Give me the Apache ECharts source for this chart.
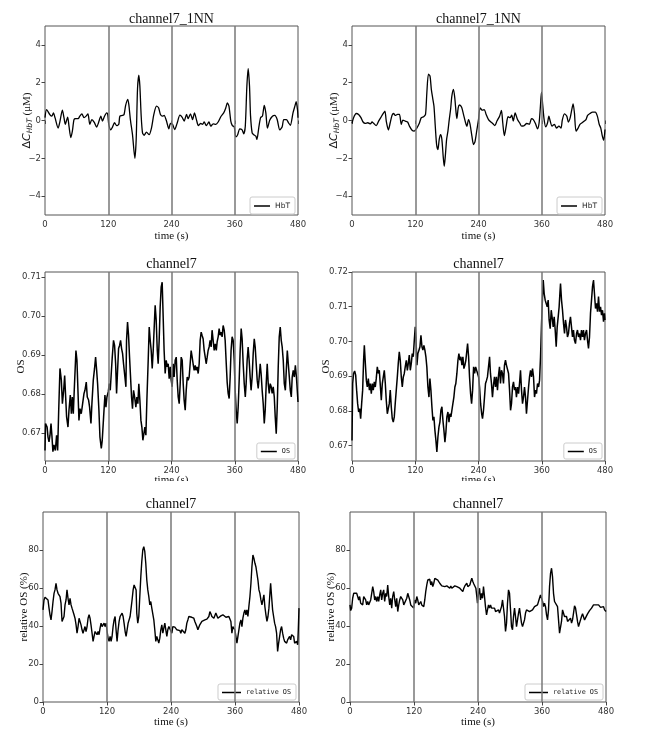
<!DOCTYPE html>
<html><head><meta charset="utf-8">
<script src="https://cdn.jsdelivr.net/npm/echarts@6/dist/echarts.min.js"></script>
<style>html,body{margin:0;padding:0;background:#fff}#c{width:645px;height:738px}</style>
</head><body><div id="c"></div>
<script>
// ---- data ----
const timeTicks = [0, 120, 240, 360, 480];
const eventTimes = [120, 240, 360];
const hbtTicks = [-4, -2, 0, 2, 4];
const osLeftTicks = [0.67, 0.68, 0.69, 0.70, 0.71];
const osRightTicks = [0.67, 0.68, 0.69, 0.70, 0.71, 0.72];
const relTicks = [0, 20, 40, 60, 80];

const hbtLeft = [[0,0.15],[3,0.58],[9.5,0.3],[13,0.23],[16,0.4],[19,0.15],[25,-0.4],[28,-0.1],[33,0.55],[36,0.15],[38.5,-0.2],[43,0.18],[45.5,-0.3],[49,-0.9],[52,-0.55],[55,0.05],[58,0.1],[63,0.1],[66,0.23],[70,0.35],[74,0.15],[78,0.23],[81.5,0.35],[85,-0.2],[89,0.05],[93.5,-0.1],[98,-0.35],[101.5,-0.12],[106,0.23],[109,-0.03],[112.5,0.2],[117,0.4],[119,0.32],[121,-0.2],[125,-0.5],[128,-0.35],[132,-0.12],[136,-0.27],[140,-0.2],[142,0.23],[147,0.27],[150,0.32],[153,0.8],[157,1.12],[159,0.85],[162,0.05],[166,-0.75],[170.5,-2.0],[173,-1.0],[175.5,1.65],[178,2.4],[180,1.82],[182.5,0.23],[185,-0.65],[188,-0.78],[192.5,-0.62],[197.5,-0.75],[202,-0.4],[206.5,0.32],[211.5,0.76],[215.5,0.67],[219,0.32],[223,0.23],[226,0.27],[230.5,-0.03],[235,-0.44],[238,-0.16],[242,-0.2],[246,-0.48],[250.5,-0.16],[256,0.28],[260,0.18],[264,-0.03],[268.5,0.32],[271.5,0.1],[276,0.35],[280,0.05],[283.5,0.4],[287.5,0.02],[291,-0.27],[295,-0.16],[299,-0.2],[302,-0.08],[306,-0.27],[311,-0.08],[314.5,-0.3],[319,-0.18],[324,-0.2],[328.5,-0.08],[333.5,0.2],[339,0.4],[343,0.67],[346,0.93],[349,0.76],[352.5,-0.03],[355.5,-0.27],[359,-0.33],[362,-0.87],[365.5,-0.75],[369.5,-0.44],[374,-0.5],[377,-0.7],[380,-0.3],[383,1.82],[385.5,2.75],[388,1.82],[390,0.23],[393,-0.65],[396,-0.75],[400,-0.83],[402,-1.0],[405.5,-0.4],[409,0.15],[412.5,0.23],[416,0.8],[419,0.4],[422,-0.4],[426.5,0.02],[431.5,0.23],[436,0.27],[440.5,0.05],[445.5,-0.5],[450,-0.33],[453,0.05],[458,0.05],[462,-0.12],[465.5,-0.25],[470.5,0.4],[474.5,0.8],[476.5,1.0],[479,0.58],[480,0.15]];

const hbtRight = [[0,-0.15],[3,0.15],[8,0.37],[12.5,0.32],[17,0.15],[21,-0.08],[25,-0.15],[30,-0.12],[35,-0.18],[38,-0.08],[41,-0.15],[46,-0.27],[50.5,-0.03],[55.5,0.2],[60,0.4],[62.5,0.5],[65,-0.03],[69,-0.5],[72.5,-0.12],[76,0.28],[79,0.37],[82,0.27],[86.5,0.32],[90,0.32],[93.5,-0.2],[96.5,0.02],[101,-0.03],[105.5,-0.08],[109,-0.3],[113.5,-0.5],[118,-0.56],[123,-0.4],[127.5,-0.16],[131.5,0.15],[136,0.2],[139.5,0.32],[142,1.47],[145,2.45],[148,2.35],[150.5,1.65],[153,1.2],[155.5,0.76],[158,-0.3],[160.5,-1.27],[163,-1.54],[165.5,-1.0],[168,-0.75],[170.5,-1.0],[173,-1.9],[175,-2.42],[177,-1.9],[179.5,-1.0],[182,-0.56],[184.5,0.05],[187,0.58],[189.5,1.3],[192.5,1.65],[195,1.2],[197.5,0.4],[199,0.1],[201.5,0.67],[204,0.82],[208,0.7],[211.5,0.32],[215.5,-0.12],[218,-0.3],[221,0.05],[224,-0.2],[227.5,-0.83],[230.5,-1.27],[233.5,-1.1],[237,-0.48],[240,0.05],[243,0.67],[247,0.55],[251,0.58],[254.5,0.32],[259,0.05],[263.5,-0.08],[267,-0.16],[271,-0.27],[275,-0.03],[280,0.23],[283.5,0.53],[286,-0.12],[289,-0.8],[292.5,-0.3],[296,0.2],[300,0.15],[303,0.28],[306,-0.03],[309.5,0.4],[314,0.05],[318,-0.12],[322,-0.3],[326.5,-0.27],[331.5,-0.16],[336.5,-0.2],[340.5,0.1],[344,0.05],[348,-0.16],[352,-0.44],[355,-0.12],[357.5,0.76],[359.5,1.5],[362,0.76],[364.5,0.05],[367.5,-0.33],[371,-0.12],[373.5,0.23],[376,-0.03],[379.5,-0.3],[384,-0.2],[388,-0.4],[392.5,-0.3],[396.5,-0.4],[399,0.02],[403,0.35],[407.5,0.23],[410.5,-0.08],[414,0.15],[417,0.58],[419.5,0.88],[422,0.4],[425,-0.56],[429,-0.4],[432.5,-0.2],[436.5,-0.12],[440.5,-0.03],[444,0.05],[447,0.27],[451.5,0.37],[456.5,0.44],[461.5,0.44],[465.5,0.23],[469,-0.2],[472,-0.4],[475,-0.83],[477.5,-1.05],[480,-0.48]];

const osLeft = [[0,0.6656],[1,0.6725],[2,0.6727],[4,0.6716],[5.7,0.669],[7.6,0.6678],[9.5,0.6695],[11.4,0.6725],[13.3,0.669],[15,0.6653],[17,0.667],[19.6,0.6656],[22,0.6695],[24,0.6656],[26,0.6759],[28.4,0.6866],[31,0.6836],[33,0.6776],[35.4,0.681],[37.3,0.6848],[39.2,0.6793],[41,0.6742],[43.6,0.6716],[45.5,0.6759],[48,0.6798],[50,0.675],[51.8,0.6793],[53.7,0.675],[56,0.6827],[58.7,0.6912],[60.6,0.6887],[62.5,0.681],[64.4,0.6733],[66.3,0.6763],[68.8,0.675],[71.4,0.6776],[74,0.6802],[75.8,0.681],[78.3,0.6831],[80.2,0.6793],[82.7,0.6785],[84.6,0.6767],[87.2,0.6725],[89,0.6776],[91.6,0.6836],[94,0.6866],[96,0.6895],[98,0.6861],[99.8,0.6827],[102.3,0.6759],[104.2,0.6691],[106.8,0.6661],[108.6,0.6682],[111.2,0.6742],[113.7,0.6798],[115.6,0.6767],[117.5,0.6793],[120,0.6806],[122,0.6827],[123.8,0.681],[125.7,0.6853],[127.6,0.6895],[130,0.6938],[132,0.6925],[134,0.6878],[135.8,0.6802],[137.7,0.6861],[139.6,0.6917],[141.5,0.6925],[143.4,0.6938],[145.3,0.6917],[147.2,0.6904],[149,0.6878],[151.6,0.6844],[153.5,0.6819],[154.7,0.6938],[156.6,0.6985],[158.5,0.6951],[160.4,0.6895],[162.3,0.6844],[164.2,0.6793],[166,0.6763],[168,0.681],[170,0.6793],[172.4,0.6767],[174.3,0.6793],[176.2,0.6776],[178,0.6827],[180,0.6785],[182,0.6733],[183.8,0.6716],[185.7,0.6682],[187.6,0.6678],[189.5,0.6716],[191.4,0.6695],[193.3,0.6785],[195.8,0.6887],[197.7,0.6972],[199.6,0.6938],[201.5,0.6912],[203.4,0.6866],[205.3,0.6912],[207.2,0.6972],[209,0.7028],[211,0.6989],[213,0.6912],[214.7,0.6878],[216.6,0.6938],[218.5,0.7023],[220.4,0.7074],[222.3,0.7087],[224.2,0.6998],[226,0.6912],[228,0.6853],[230,0.6887],[231.8,0.687],[233.7,0.6878],[235.6,0.684],[237.5,0.687],[239.4,0.6836],[241.3,0.6819],[243.2,0.6878],[245,0.6844],[247,0.6887],[249,0.6895],[250.8,0.6836],[252.7,0.6793],[254.6,0.6776],[256.5,0.6827],[258.4,0.6895],[260.3,0.6887],[262.2,0.6827],[264,0.6785],[266,0.6759],[267.9,0.681],[269.8,0.6844],[271.6,0.6836],[273.5,0.6844],[275.4,0.6878],[277.3,0.6912],[279.2,0.6895],[281,0.6878],[283,0.6861],[285,0.6874],[286.8,0.6861],[288.7,0.687],[290.6,0.6853],[292.5,0.6878],[294.4,0.6938],[296.3,0.6959],[298.2,0.695],[300,0.6942],[302,0.6912],[304,0.6895],[305.8,0.6878],[307.7,0.6895],[309.5,0.6912],[311.4,0.6921],[313.3,0.6938],[315.2,0.6921],[317,0.6964],[319,0.6938],[321,0.6912],[323,0.6929],[325,0.6912],[326.6,0.6934],[328.5,0.6947],[330.4,0.6968],[332.3,0.6951],[334.2,0.6959],[336,0.6947],[338,0.6976],[340,0.6964],[341.8,0.6938],[343.7,0.6883],[345.6,0.6831],[347.5,0.6802],[349.4,0.6789],[351.3,0.6844],[353,0.6912],[355,0.6947],[357,0.6938],[359,0.6887],[360.8,0.681],[362.7,0.6759],[364.6,0.6725],[366.5,0.6767],[368.4,0.6836],[370.3,0.6912],[372.2,0.6968],[374,0.6942],[376,0.6878],[378,0.6827],[380,0.6793],[381.6,0.6827],[383.5,0.6887],[385.4,0.6921],[387.3,0.6887],[389.2,0.6844],[391,0.681],[393,0.6844],[395,0.6904],[397,0.6942],[398.8,0.6921],[400.7,0.6878],[402.6,0.6836],[404.5,0.6815],[406.4,0.6844],[408.3,0.6878],[410,0.6853],[412,0.681],[414,0.6776],[416,0.6725],[417.8,0.6759],[419.7,0.6827],[421.6,0.6878],[423.5,0.6827],[425.4,0.6802],[427.3,0.6827],[429.2,0.6819],[431,0.6802],[433,0.6819],[435,0.6793],[436.8,0.6742],[438.7,0.6699],[440.6,0.6767],[442.5,0.687],[444.4,0.6947],[446.3,0.6972],[448.2,0.6938],[450,0.6921],[452,0.6887],[454,0.6827],[456,0.681],[457.8,0.6861],[459.7,0.6912],[461.6,0.6878],[463.5,0.6844],[465.4,0.681],[467.3,0.6793],[469,0.6844],[471,0.6861],[473,0.6844],[475,0.6874],[477,0.6844],[479,0.6802],[480,0.678]];

const osRight = [[0,0.6715],[1.3,0.6879],[3,0.6908],[5,0.6915],[7,0.6903],[8.8,0.686],[10.7,0.6821],[12.6,0.6797],[14.5,0.6807],[16.4,0.6778],[18.3,0.6821],[20.2,0.686],[22,0.6946],[23.4,0.6989],[25.3,0.6937],[27.2,0.6888],[29,0.6869],[31,0.6893],[33,0.686],[34.7,0.6879],[36.6,0.685],[38.5,0.6879],[40.4,0.686],[42.3,0.6884],[44.2,0.6869],[46,0.6893],[48,0.6927],[50,0.6908],[51.8,0.6917],[53.7,0.6874],[55.6,0.6831],[57.5,0.6879],[59.4,0.6898],[61.3,0.6917],[63.2,0.6879],[65,0.6831],[67,0.6792],[68.8,0.6788],[70.7,0.6821],[72.6,0.686],[74.5,0.6812],[76.4,0.6778],[78.3,0.6768],[80.2,0.6783],[82,0.6821],[84,0.686],[86,0.6898],[87.8,0.6937],[89.7,0.697],[91.6,0.6946],[93.5,0.6898],[95.4,0.6869],[97.3,0.6898],[99.2,0.6908],[101,0.6927],[103,0.6946],[105,0.6917],[106.8,0.6937],[108.7,0.6961],[110.6,0.6917],[112.5,0.6937],[114.3,0.6965],[116.2,0.6956],[118,0.6999],[120,0.7042],[121.3,0.7013],[123.2,0.6932],[125,0.6965],[127,0.6975],[128.9,0.6985],[130.8,0.7018],[132.7,0.6985],[134.5,0.6975],[136.4,0.6989],[138.3,0.6975],[140.2,0.6956],[142,0.6927],[144,0.6869],[146,0.684],[147.8,0.6893],[149.7,0.686],[151.6,0.6812],[153.5,0.6773],[155.4,0.6783],[157.3,0.6744],[159.2,0.6715],[161,0.6682],[163,0.6725],[165,0.6754],[166.8,0.6768],[168.7,0.6802],[170.6,0.6812],[172.5,0.6773],[174.4,0.6744],[176.3,0.671],[178.2,0.674],[180,0.6783],[182,0.6797],[184,0.6768],[185.8,0.6792],[187.7,0.6783],[189.5,0.6802],[191.4,0.6821],[193.3,0.684],[195.2,0.6869],[197,0.6879],[199,0.6908],[201,0.6946],[202.8,0.6965],[204.7,0.6946],[206.6,0.6956],[208.5,0.6932],[210.4,0.6956],[212.3,0.6922],[214.2,0.6932],[216,0.6946],[218,0.6975],[219.3,0.6994],[221.2,0.6956],[223,0.6898],[225,0.685],[226.9,0.6821],[228.8,0.686],[230.7,0.6927],[232.6,0.6908],[234.5,0.6927],[236.4,0.6917],[238.3,0.6908],[240.2,0.6898],[242,0.6869],[244,0.6821],[246,0.6792],[247.6,0.6778],[249.5,0.6802],[251.4,0.684],[253.3,0.6879],[255.2,0.6888],[257,0.6898],[259,0.6927],[261,0.6956],[262.7,0.6908],[264.6,0.6879],[266.5,0.684],[268.4,0.6874],[270.3,0.6898],[272.2,0.6869],[274,0.6898],[276,0.686],[278,0.6903],[279.8,0.6927],[281.7,0.6879],[283.6,0.6917],[285.5,0.6908],[287.4,0.6879],[289.3,0.6932],[291.2,0.6946],[293,0.6932],[295,0.6937],[297,0.6908],[298.9,0.686],[300.8,0.6802],[302.6,0.6821],[304.5,0.6869],[306.4,0.6884],[308.3,0.686],[310.2,0.6869],[312,0.684],[314,0.6869],[316,0.685],[317.8,0.6879],[319.7,0.6917],[321.6,0.686],[323.5,0.6821],[325.4,0.684],[327.3,0.6869],[329.2,0.684],[331,0.6792],[333,0.6831],[335,0.6869],[336.8,0.6898],[338.7,0.6917],[340.6,0.6898],[342.5,0.6922],[344.4,0.6898],[346.3,0.684],[348.2,0.686],[350,0.685],[352,0.6879],[354,0.6869],[355.8,0.6888],[357.7,0.6956],[359.6,0.7052],[361.5,0.7129],[362.8,0.7177],[364.6,0.7138],[366.5,0.7119],[368.4,0.7124],[370.3,0.71],[372.2,0.7119],[374,0.7062],[376,0.7037],[378,0.709],[380,0.7066],[381.7,0.7042],[383.6,0.7071],[385.5,0.7033],[387.4,0.6985],[389.3,0.7042],[391.2,0.7071],[393,0.71],[394.4,0.7138],[395.6,0.7167],[397.5,0.7119],[399.4,0.709],[401.3,0.7052],[403.2,0.7023],[405,0.7062],[407,0.7042],[408.8,0.7013],[410.7,0.7023],[412.6,0.7052],[414.5,0.7071],[416.4,0.7042],[418.3,0.7013],[420.2,0.7033],[422,0.7004],[424,0.6994],[426,0.7023],[427.8,0.7033],[429.7,0.7013],[431.6,0.7023],[433.5,0.7004],[435.4,0.7033],[437.3,0.7013],[439.2,0.7033],[441,0.7004],[443,0.7023],[445,0.7033],[446.8,0.7004],[448.7,0.698],[450.6,0.7013],[452.5,0.7081],[454.4,0.7119],[456.3,0.7158],[458.2,0.7177],[460,0.7138],[462,0.7095],[464,0.711],[465.8,0.7086],[467.7,0.7129],[469.6,0.7086],[471.5,0.71],[473.4,0.7076],[475.3,0.709],[477.2,0.7057],[479,0.7081],[480,0.7062]];

const relLeft = [[0,48.5],[1.9,53.7],[3.8,55.1],[5.6,54.6],[7.5,55.8],[9.4,53.7],[11.3,49.4],[13.1,45.9],[15,43.2],[16.9,47.6],[18.8,52.9],[20.7,57.2],[22.5,59],[24.4,62.5],[26.3,59],[28.2,57.2],[30,58.1],[31.9,55.5],[33.8,52],[35.7,42.4],[37.5,41.5],[39.4,45],[41.3,51.1],[43.2,53.7],[45,59],[46.9,54.6],[48.8,51.1],[50.7,54.6],[52.6,51.1],[54.4,49.4],[56.3,50.2],[58.2,45.9],[60,44.1],[62,40.6],[63.8,36.2],[65.7,39.7],[67.6,44.1],[69.5,45],[71.3,40.6],[73.2,38],[75,36.2],[77,38],[78.8,39.7],[80.7,37.1],[82.6,39.7],[84.5,44.1],[86.4,45.9],[88.2,44.1],[90,40.6],[92,36.2],[93.9,31.9],[95.7,34.5],[97.6,37.1],[99.5,38],[101.4,35.4],[103.3,37.1],[105.1,35.4],[107,38.9],[108.9,41.5],[110.8,39.7],[112.6,40.6],[114.5,41.5],[116.4,39.7],[118.3,41.5],[120.2,37.1],[122,33.6],[123.9,31.9],[125.8,34.5],[127.7,31.9],[129.5,34.5],[131.4,39.7],[133.3,43.2],[135.2,45],[137,38],[138.9,31.9],[140.8,38],[142.7,42.4],[144.6,45],[146.4,45.9],[148.3,46.8],[150.2,45],[152,41.5],[154,37.1],[155.8,34.5],[157.7,38],[159.6,41.5],[161.5,42.4],[163.3,45],[165.2,49.4],[167,53.7],[169,59],[170.8,61.6],[172.7,61.1],[174.6,59],[175.8,46.8],[177.7,41.5],[179.6,45],[181.5,55.5],[183.4,66],[185.2,73.9],[187.1,80],[189,81.8],[190.9,79.1],[192.7,73],[194.6,64.2],[196.5,59],[198.4,55.5],[200.3,51.1],[202.1,52.9],[204,49.4],[205.9,48.5],[207.8,43.2],[209.6,38],[211.5,31.9],[213.4,34.5],[215.3,32.7],[217.1,31],[219,33.6],[220.9,38],[222.8,40.6],[224.7,36.2],[226.5,38.9],[228.4,41.5],[230.3,38],[232.2,34.5],[234,38],[236,39.7],[237.8,40.6],[239.7,38.9],[241.6,36.2],[243.4,39.7],[245.3,40.6],[247.2,39.4],[249,39.7],[251,38],[252.8,38.9],[254.7,38.3],[256.6,37.6],[258.4,36.2],[260.3,38],[262.2,38],[264,37.1],[266,36.2],[267.8,38],[269.7,41.5],[271.6,43.2],[273.5,45],[275.3,45.9],[277.2,45.3],[279,44.6],[281,45],[282.8,44.1],[284.7,42.4],[286.6,41.5],[288.5,39.7],[290.4,38],[292.2,38.9],[294,40.6],[296,41.5],[297.9,42.4],[299.7,43.2],[301.6,42.4],[303.5,43.2],[305.4,42.9],[307.3,43.6],[309.1,44.1],[311,45],[312.9,47.6],[314.8,46.4],[316.6,45],[318.5,45.9],[320.4,44.1],[322.3,45],[324.1,46.8],[326,45.9],[327.9,44.1],[329.8,45],[331.6,44.1],[333.5,45.3],[335.4,44.6],[337.3,45.9],[339.2,45],[341,45.3],[343,44.6],[344.8,45],[346.7,44.1],[348.5,45],[350.4,44.1],[352.3,42.4],[354.2,36.2],[356,39.7],[358,40.6],[359.8,38],[361.7,34.5],[363.6,31],[365.5,34.5],[367.3,38],[369.2,41.5],[371.1,43.2],[373,39.7],[374.8,44.1],[376.7,46.8],[378.6,48.5],[380.5,45.9],[382.3,48.5],[384.2,45],[386,50.2],[388,55.5],[389.9,62.5],[391.7,71.2],[393.6,77.4],[395.5,75.6],[397.4,73],[399.2,71.2],[401.1,67.7],[403,64.2],[404.9,59],[406.7,57.2],[408.6,53.7],[410.5,51.1],[412.4,52],[414.2,56.4],[416,50.2],[418,45.9],[419.9,42.4],[421.8,45],[423.6,49.4],[425.5,57.2],[426.8,62.5],[428.6,55.5],[430.5,48.5],[432.4,45],[434.3,41.5],[436.1,39.7],[438,36.2],[439.9,26.6],[441.8,31],[443.7,34.5],[445.5,38],[447.4,39.7],[449.3,36.2],[451.2,33.6],[453,31.9],[455,32.7],[456.8,31],[458.7,32.7],[460.6,31.9],[462.4,34.5],[464.3,32.7],[466.2,35.4],[468,36.2],[470,34.5],[471.8,31],[473.7,30.1],[475.6,31.9],[477.5,30.1],[478.7,38],[480,49.4]];

const relRight = [[0,51.1],[1.3,48.1],[3.1,49.4],[5,54.6],[6.9,57.2],[8.8,58.1],[10.6,56.4],[12.5,57.2],[14.4,55.5],[16.3,53.7],[18.1,55.5],[20,52],[21.9,52.9],[23.8,51.1],[25.7,55.5],[27.5,56.4],[29.4,53.7],[31.3,51.1],[33.2,52.9],[35,51.1],[36.9,50.2],[38.8,53.7],[40.7,57.2],[42.6,60.7],[44.4,58.1],[46.3,53.7],[48.2,55.5],[50,52.9],[52,55.5],[53.8,52.9],[55.7,56.4],[57.6,59],[59.4,53.7],[61.3,57.2],[63.2,59],[65,52.9],[67,57.2],[68.8,55.5],[70.7,61.6],[72.6,55.5],[74.5,51.1],[76.3,54.6],[78.2,49.4],[80,55.5],[82,58.1],[83.9,53.7],[85.7,50.2],[87.6,54.6],[89.5,47.6],[91.4,51.1],[93.2,53.7],[95.1,55.5],[97,56.4],[98.9,53.7],[100.8,51.1],[102.6,50.2],[104.5,52],[106.4,54.6],[108.3,57.2],[110.1,56.4],[112,53.7],[113.9,51.1],[115.8,52],[117.6,50.2],[119.5,49.4],[121.4,53.7],[123.3,52],[125.2,55.5],[127,53.7],[128.9,51.1],[130.8,52],[132.7,52.9],[134.5,51.1],[136.4,52],[138.3,50.2],[140.2,53.7],[142,58.1],[144,61.6],[145.8,64.2],[147.7,63.4],[149.6,64.6],[151.5,61.6],[153.3,63.4],[155.2,60.7],[157.1,62.5],[159,65.1],[160.8,65.5],[162.7,65.1],[164.6,64.2],[166.5,63.4],[168.3,62.5],[170.2,61.6],[172.1,61.1],[174,60.7],[175.8,61.1],[177.7,60.7],[179.6,61.6],[181.5,61.1],[183.4,60.7],[185.2,61.6],[187.1,59.9],[189,61.1],[190.9,59.9],[192.7,60.7],[194.6,59.3],[196.5,61.1],[198.4,60.4],[200.3,60.7],[202.1,59.9],[204,60.7],[205.9,59.9],[207.8,60.7],[209.6,59],[211.5,58.1],[213.4,59.9],[215.3,61.1],[217.1,60.4],[219,62.5],[220.9,60.7],[222.8,59.9],[224.7,61.6],[226.5,63.4],[228.4,65.1],[230.3,63.4],[232.2,62.1],[234,62.5],[236,59.9],[237.8,55.5],[239,52],[241,57.2],[242.9,59.9],[244.7,53.7],[246.6,57.2],[248.5,54.6],[250.3,60.7],[252.2,55.5],[254,50.2],[256,45.9],[257.8,48.5],[259.7,51.1],[261.6,49.4],[263.5,51.1],[265.4,49.4],[267.2,50.2],[269.1,48.5],[271,49.4],[272.9,47.6],[274.7,48.5],[276.6,47.6],[278.5,48.5],[280.3,46.8],[282.2,47.6],[284.1,50.2],[286,53.7],[287.8,52.9],[289.7,45],[291.6,37.1],[293.5,41.5],[295.3,52],[297.2,59],[299.1,57.2],[301,48.5],[302.8,39.7],[304.7,38],[306.6,45],[308.5,49.4],[310.3,45],[312.2,39.7],[314.1,43.2],[316,46.8],[317.8,49.4],[319.7,49.4],[321.6,41.5],[323.5,39.7],[325.4,40.6],[327.2,43.2],[329.1,46.8],[331,48.5],[332.8,49.4],[334.7,48.5],[336.6,47.6],[338.5,46.8],[340.3,47.6],[342.2,48.5],[344.1,49.4],[346,50.2],[347.9,50.2],[349.7,51.1],[351.6,51.1],[353.5,52],[355.3,54.6],[357.2,56.4],[359.1,55.5],[361,52.9],[362.9,50.2],[364.7,52],[366.6,50.2],[368.5,45.9],[370.4,43.2],[372.2,48.5],[374.1,60.7],[376,67.7],[377.9,70.4],[379.7,66],[381.6,57.2],[383.5,52.9],[385.4,52],[387.2,53.7],[389.1,50.2],[391,43.2],[392.9,36.2],[394.7,36.2],[396.6,42.4],[398.5,48.5],[400.4,49.4],[402.2,45],[404.1,44.1],[406,45],[407.9,42.4],[409.7,43.2],[411.6,42.4],[413.5,44.1],[415.4,41.5],[417.2,43.2],[419.1,46.8],[421,50.6],[422.9,49.4],[424.8,45.9],[426.6,42.4],[428.5,39.7],[430.4,41.5],[432.2,42.4],[434.1,45],[436,46.4],[437.9,46.8],[439.8,43.2],[441.6,44.1],[443.5,45.3],[445.4,46.4],[447.3,47.1],[449.1,48.1],[451,48.8],[452.9,49.4],[454.8,50.2],[456.6,51.1],[458.5,51.6],[460.4,51.1],[462.3,51.6],[464.1,50.6],[466,51.1],[467.9,50.2],[469.8,49.8],[471.6,50.6],[473.5,49.4],[475.4,50.2],[477.3,48.5],[480,47.6]];

// ---- layout ----
const panels = [
  {grid:{left:45,top:26,width:253,height:189}, data:hbtLeft, name:'HbT', ymin:-5, ymax:5, ticks:hbtTicks, ytitle:'hbt', nameGap:11, title:'channel7_1NN', titleTop:12, smooth:0.25, xGap:16, lw:1.3},
  {grid:{left:352,top:26,width:253,height:189}, data:hbtRight, name:'HbT', ymin:-5, ymax:5, ticks:hbtTicks, ytitle:'hbt', nameGap:11, title:'channel7_1NN', titleTop:12, smooth:0.25, xGap:16, lw:1.3},
  {grid:{left:45,top:272,width:253,height:189}, data:osLeft, name:'OS', ymin:0.6629, ymax:0.7113, ticks:osLeftTicks, ytitle:'OS', nameGap:18, title:'channel7', titleTop:257, smooth:false, dec:2, xGap:14, lw:1.5},
  {grid:{left:352,top:272,width:253,height:189}, data:osRight, name:'OS', ymin:0.6656, ymax:0.7200, ticks:osRightTicks, ytitle:'OS', nameGap:20, title:'channel7', titleTop:257, smooth:false, dec:2, xGap:14, lw:1.5},
  {grid:{left:43,top:512,width:256,height:190}, data:relLeft, name:'relative OS', ymin:0, ymax:100, ticks:relTicks, ytitle:'relative OS (%)', nameGap:13.5, title:'channel7', titleTop:497, smooth:false, xGap:15, lw:1.4},
  {grid:{left:350,top:512,width:256,height:190}, data:relRight, name:'relative OS', ymin:0, ymax:100, ticks:relTicks, ytitle:'relative OS (%)', nameGap:13.5, title:'channel7', titleTop:497, smooth:false, xGap:15, lw:1.4},
];

const serif = 'Liberation Serif';
const sans = 'DejaVu Sans';
const fmt = (dec) => (v) => {
  let s = dec ? v.toFixed(dec) : String(Math.round(v));
  return v < 0 ? '\u2212' + s.replace('-', '') : s;
};

const option = {
  animation: false,
  backgroundColor: '#fff',
  grid: [], xAxis: [], yAxis: [], series: [], title: [], legend: [],
  graphic: [{type:'rect', left:0, top:481, z:100, shape:{x:0,y:0,width:645,height:9}, style:{fill:'#fff'}}]
};

panels.forEach((p, i) => {
  option.grid.push(Object.assign({show:true, borderColor:'#555', borderWidth:1, backgroundColor:'transparent'}, p.grid));
  option.title.push({
    text: p.title, left: p.grid.left + p.grid.width/2, top: p.titleTop, textAlign:'center', padding:0,
    textStyle:{fontFamily:serif, fontSize:14, fontWeight:'normal', color:'#111'}
  });
  option.xAxis.push({
    type:'value', gridIndex:i, min:0, max:480,
    axisLine:{show:false}, splitLine:{show:false},
    axisTick:{show:true, length:3.5, lineStyle:{color:'#444'}, customValues: timeTicks},
    axisLabel:{fontFamily:sans, fontSize:8.5, color:'#333', margin:5, customValues: timeTicks},
    name:'time (s)', nameLocation:'middle', nameGap:p.xGap, nameMoveOverlap:false,
    nameTextStyle:{fontFamily:serif, fontSize:11, color:'#111'}
  });
  let yName, yRich;
  if (p.ytitle === 'hbt') {
    yName = '{d|\u0394}{c|C}{s|HbT}{u| (\u03bcM)}';
    yRich = {
      d:{fontFamily:sans, fontSize:11, color:'#111'},
      c:{fontFamily:sans, fontStyle:'italic', fontSize:11, color:'#111'},
      s:{fontFamily:sans, fontStyle:'italic', fontSize:7.5, color:'#111', verticalAlign:'bottom', padding:[5,0,0,0]},
      u:{fontFamily:serif, fontSize:11, color:'#111'}
    };
  } else { yName = p.ytitle; }
  option.yAxis.push({
    type:'value', gridIndex:i, min:p.ymin, max:p.ymax,
    axisLine:{show:false}, splitLine:{show:false},
    axisTick:{show:true, length:3.5, lineStyle:{color:'#444'}, customValues: p.ticks},
    axisLabel:{fontFamily:sans, fontSize:8.5, color:'#333', margin:4, customValues: p.ticks, formatter: fmt(p.dec)},
    name: yName, nameLocation:'middle', nameGap:p.nameGap, nameRotate:90, nameMoveOverlap:false,
    nameTextStyle: Object.assign({fontFamily:serif, fontSize:11, color:'#111'}, yRich ? {rich:yRich} : {})
  });
  option.series.push({
    type:'line', name:p.name, xAxisIndex:i, yAxisIndex:i, data:p.data,
    symbol:'none', smooth:p.smooth, color:'#000',
    lineStyle:{color:'#000', width:p.lw},
    markLine:{silent:true, symbol:'none', animation:false, label:{show:false},
      lineStyle:{color:'#777', width:1.5, type:'solid'},
      data: eventTimes.map(t => ({xAxis:t}))}
  });
  const mono = p.name !== 'HbT';
  option.legend.push({
    data:[p.name],
    right: 645 - (p.grid.left + p.grid.width) + 3,
    top: p.grid.top + p.grid.height - 18,
    icon:'rect', itemWidth: mono && p.name.length > 3 ? 19 : 16, itemHeight: 1.5,
    itemStyle:{color:'#000'},
    padding:[5,5,4,4], borderColor:'#ccc', borderWidth:1, borderRadius:2, backgroundColor:'#fff',
    textStyle:{fontFamily: mono ? 'DejaVu Sans Mono' : sans, fontSize: mono ? 6.8 : 7.5, color:'#222'}
  });
});

const chart = echarts.init(document.getElementById('c'), null, {renderer:'canvas'});
chart.setOption(option);
</script>
</body></html>
